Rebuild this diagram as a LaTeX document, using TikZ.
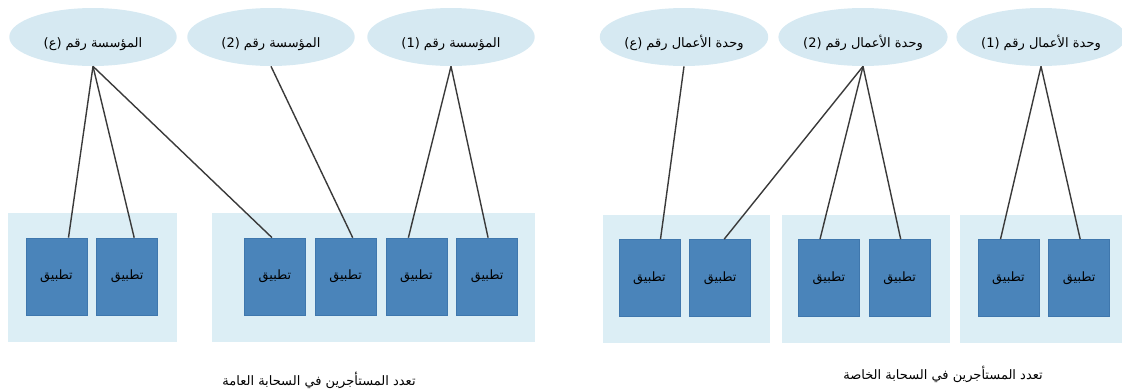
\documentclass[tikz,border=0pt]{standalone}
\usepackage{fontspec}
\newfontfamily\arabicfont[Script=Arabic]{DejaVu Sans}
\TeXXeTstate=1
\usetikzlibrary{positioning,shapes.geometric}

\definecolor{tenantfill}{HTML}{D6E9F2}
\definecolor{cloudfill}{HTML}{DCEEF5}
\definecolor{appfill}{HTML}{4A84BA}
\definecolor{appedge}{HTML}{3F77AD}
\definecolor{linkgray}{HTML}{3A3A3A}

% right-to-left Arabic text
\newcommand{\rtltext}[1]{\beginR #1\endR}

\begin{document}
\begin{tikzpicture}[
  x=0.02cm, y=-0.02cm,
  tenant/.style={ellipse, fill=tenantfill, minimum width=3.35cm, minimum height=1.16cm, inner sep=0pt, font=\arabicfont\fontsize{7.4}{9}\selectfont, text height=0.46cm, text depth=0.05cm},
  app/.style={draw=appedge, fill=appfill, minimum width=1.22cm, minimum height=1.54cm, inner sep=0pt, font=\arabicfont\fontsize{7.3}{9}\selectfont},
  cloud/.style={fill=cloudfill},
  link/.style={draw=linkgray, line width=0.8pt},
  caption/.style={font=\arabicfont\fontsize{7.4}{9}\selectfont},
  node distance=0.18cm
]
\useasboundingbox (0,0) rectangle (1122,389);

% cloud backgrounds
\fill[cloud] (8,213) rectangle (177,342);
\fill[cloud] (212,213) rectangle (535,342);
\fill[cloud] (603,215) rectangle (770,343);
\fill[cloud] (782,215) rectangle (950,343);
\fill[cloud] (960,215) rectangle (1122,343);

% public cloud: organisations
\node[tenant] (orgN) at (93,37) {\rtltext{المؤسسة رقم (ع)}};
\node[tenant] (orgB) at (271,37) {\rtltext{المؤسسة رقم \beginL(2)\endL{}}};
\node[tenant] (orgA) at (451,37) {\rtltext{المؤسسة رقم \beginL(1)\endL{}}};

% private cloud: business units
\node[tenant] (unitN) at (684,37) {\rtltext{وحدة الأعمال رقم (ع)}};
\node[tenant] (unitB) at (863,37) {\rtltext{وحدة الأعمال رقم \beginL(2)\endL{}}};
\node[tenant] (unitA) at (1041,37) {\rtltext{وحدة الأعمال رقم \beginL(1)\endL{}}};

% public cloud apps
\node[app] (pubApp1) at (56.5,276.5) {تطبيق};
\node[app, right=of pubApp1] (pubApp2) {تطبيق};
\node[app] (pubApp3) at (275,276.5) {تطبيق};
\node[app, right=of pubApp3] (pubApp4) {تطبيق};
\node[app, right=of pubApp4] (pubApp5) {تطبيق};
\node[app, right=of pubApp5] (pubApp6) {تطبيق};

% private cloud apps
\node[app] (privApp1) at (649.5,278) {تطبيق};
\node[app, right=of privApp1] (privApp2) {تطبيق};
\node[app] (privApp3) at (829,278) {تطبيق};
\node[app, right=of privApp3] (privApp4) {تطبيق};
\node[app] (privApp5) at (1008.5,278) {تطبيق};
\node[app, right=of privApp5] (privApp6) {تطبيق};

% tenant links
\draw[link] (orgN.south) -- ([xshift=0.24cm]pubApp1.north);
\draw[link] (orgN.south) -- ([xshift=0.14cm]pubApp2.north);
\draw[link] (orgN.south) -- ([xshift=-0.06cm]pubApp3.north);
\draw[link] (orgB.south) -- ([xshift=0.14cm]pubApp4.north);
\draw[link] (orgA.south) -- ([xshift=-0.16cm]pubApp5.north);
\draw[link] (orgA.south) -- ([xshift=0.02cm]pubApp6.north);

\draw[link] (unitN.south) -- ([xshift=0.22cm]privApp1.north);
\draw[link] (unitB.south) -- ([xshift=0.08cm]privApp2.north);
\draw[link] (unitB.south) -- ([xshift=-0.18cm]privApp3.north);
\draw[link] (unitB.south) -- ([xshift=0.02cm]privApp4.north);
\draw[link] (unitA.south) -- ([xshift=-0.16cm]privApp5.north);
\draw[link] (unitA.south) -- ([xshift=0.02cm]privApp6.north);

% captions
\node[caption] (pubCaption) at (319,380) {\rtltext{تعدد المستأجرين في السحابة العامة}};
\node[caption] (privCaption) at (943,374) {\rtltext{تعدد المستأجرين في السحابة الخاصة}};
\end{tikzpicture}
\end{document}
